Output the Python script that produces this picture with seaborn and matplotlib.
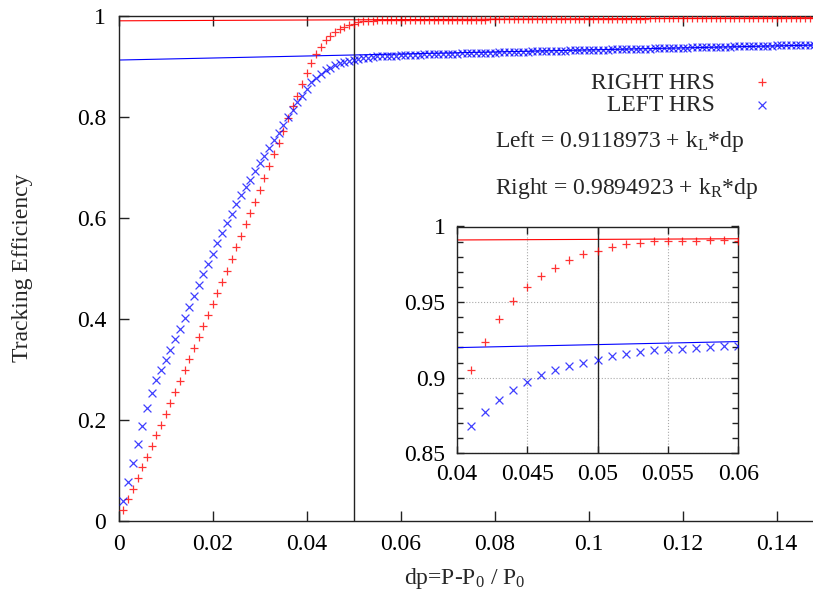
import numpy as np
import pandas as pd
import matplotlib
matplotlib.use("Agg")
import matplotlib.pyplot as plt
from matplotlib.ticker import FixedLocator, MultipleLocator, FuncFormatter
import seaborn as sns

# dp values (P-P0)/P0, one point per 0.001
dp = [0.001, 0.002, 0.003, 0.004, 0.005, 0.006, 0.007, 0.008, 0.009, 0.010,
      0.011, 0.012, 0.013, 0.014, 0.015, 0.016, 0.017, 0.018, 0.019, 0.020,
      0.021, 0.022, 0.023, 0.024, 0.025, 0.026, 0.027, 0.028, 0.029, 0.030,
      0.031, 0.032, 0.033, 0.034, 0.035, 0.036, 0.037, 0.038, 0.039, 0.040,
      0.041, 0.042, 0.043, 0.044, 0.045, 0.046, 0.047, 0.048, 0.049, 0.050,
      0.051, 0.052, 0.053, 0.054, 0.055, 0.056, 0.057, 0.058, 0.059, 0.060,
      0.061, 0.062, 0.063, 0.064, 0.065, 0.066, 0.067, 0.068, 0.069, 0.070,
      0.071, 0.072, 0.073, 0.074, 0.075, 0.076, 0.077, 0.078, 0.079, 0.080,
      0.081, 0.082, 0.083, 0.084, 0.085, 0.086, 0.087, 0.088, 0.089, 0.090,
      0.091, 0.092, 0.093, 0.094, 0.095, 0.096, 0.097, 0.098, 0.099, 0.100,
      0.101, 0.102, 0.103, 0.104, 0.105, 0.106, 0.107, 0.108, 0.109, 0.110,
      0.111, 0.112, 0.113, 0.114, 0.115, 0.116, 0.117, 0.118, 0.119, 0.120,
      0.121, 0.122, 0.123, 0.124, 0.125, 0.126, 0.127, 0.128, 0.129, 0.130,
      0.131, 0.132, 0.133, 0.134, 0.135, 0.136, 0.137, 0.138, 0.139, 0.140,
      0.141, 0.142, 0.143, 0.144, 0.145, 0.146, 0.147, 0.148, 0.149, 0.150]

# RIGHT HRS tracking efficiency
right_eff = [0.0217, 0.0429, 0.0640, 0.0857, 0.1067, 0.1272, 0.1476, 0.1693, 0.1904, 0.2122,
             0.2339, 0.2548, 0.2766, 0.2991, 0.3200, 0.3418, 0.3635, 0.3852, 0.4077, 0.4295,
             0.4512, 0.4735, 0.4953, 0.5176, 0.5413, 0.5644, 0.5867, 0.6092, 0.6310, 0.6550,
             0.6780, 0.7030, 0.7260, 0.7475, 0.7724, 0.7980, 0.8200, 0.8416, 0.8647, 0.8870,
             0.9053, 0.9234, 0.9385, 0.9507, 0.9600, 0.9673, 0.9728, 0.9777, 0.9821, 0.9839,
             0.9863, 0.9883, 0.9894, 0.9901, 0.9903, 0.9903, 0.9903, 0.9910, 0.9912, 0.9905,
             0.9908, 0.9910, 0.9909, 0.9911, 0.9912, 0.9911, 0.9913, 0.9914, 0.9913, 0.9915,
             0.9916, 0.9915, 0.9917, 0.9918, 0.9917, 0.9919, 0.9920, 0.9919, 0.9921, 0.9921,
             0.9922, 0.9923, 0.9922, 0.9924, 0.9925, 0.9924, 0.9926, 0.9926, 0.9927, 0.9928,
             0.9927, 0.9929, 0.9929, 0.9930, 0.9931, 0.9930, 0.9932, 0.9932, 0.9933, 0.9934,
             0.9933, 0.9935, 0.9935, 0.9936, 0.9937, 0.9936, 0.9938, 0.9938, 0.9939, 0.9939,
             0.9940, 0.9940, 0.9941, 0.9941, 0.9942, 0.9942, 0.9943, 0.9943, 0.9944, 0.9944,
             0.9945, 0.9944, 0.9945, 0.9946, 0.9946, 0.9947, 0.9946, 0.9947, 0.9948, 0.9948,
             0.9948, 0.9949, 0.9949, 0.9948, 0.9950, 0.9950, 0.9949, 0.9951, 0.9950, 0.9951,
             0.9951, 0.9952, 0.9951, 0.9952, 0.9952, 0.9953, 0.9952, 0.9953, 0.9953, 0.9954]

# LEFT HRS tracking efficiency
left_eff = [0.0395, 0.0780, 0.1154, 0.1529, 0.1877, 0.2226, 0.2537, 0.2780, 0.2990, 0.3194,
            0.3392, 0.3603, 0.3807, 0.4018, 0.4235, 0.4445, 0.4662, 0.4887, 0.5091, 0.5288,
            0.5500, 0.5697, 0.5895, 0.6079, 0.6276, 0.6454, 0.6600, 0.6750, 0.6914, 0.7080,
            0.7230, 0.7388, 0.7540, 0.7685, 0.7837, 0.7989, 0.8133, 0.8285, 0.8416, 0.8542,
            0.8681, 0.8770, 0.8852, 0.8920, 0.8971, 0.9015, 0.9051, 0.9075, 0.9098, 0.9120,
            0.9144, 0.9155, 0.9168, 0.9181, 0.9191, 0.9193, 0.9197, 0.9206, 0.9208, 0.9212,
            0.9216, 0.9220, 0.9223, 0.9225, 0.9229, 0.9231, 0.9235, 0.9237, 0.9240, 0.9243,
            0.9245, 0.9248, 0.9251, 0.9253, 0.9256, 0.9258, 0.9261, 0.9263, 0.9266, 0.9268,
            0.9271, 0.9273, 0.9276, 0.9278, 0.9281, 0.9283, 0.9286, 0.9288, 0.9291, 0.9293,
            0.9296, 0.9298, 0.9300, 0.9303, 0.9305, 0.9308, 0.9310, 0.9312, 0.9315, 0.9317,
            0.9320, 0.9322, 0.9324, 0.9327, 0.9329, 0.9331, 0.9334, 0.9336, 0.9338, 0.9341,
            0.9343, 0.9345, 0.9347, 0.9350, 0.9352, 0.9354, 0.9356, 0.9359, 0.9361, 0.9363,
            0.9365, 0.9368, 0.9370, 0.9372, 0.9374, 0.9376, 0.9379, 0.9381, 0.9383, 0.9385,
            0.9387, 0.9390, 0.9392, 0.9394, 0.9396, 0.9398, 0.9400, 0.9402, 0.9405, 0.9407,
            0.9409, 0.9411, 0.9413, 0.9415, 0.9417, 0.9419, 0.9421, 0.9423, 0.9425, 0.9427]

# fit lines: eff = a + k*dp
a_left, k_left = 0.9118973, 0.20
a_right, k_right = 0.9894923, 0.04
fit_x = [0.0, 0.15]
dp_cut = 0.05

main_xticks = [0, 0.02, 0.04, 0.06, 0.08, 0.1, 0.12, 0.14]
main_yticks = [0, 0.2, 0.4, 0.6, 0.8, 1.0]
inset_xticks = [0.04, 0.045, 0.05, 0.055, 0.06]
inset_yticks = [0.85, 0.9, 0.95, 1.0]

sns.set_style("ticks")
plt.rcParams['font.family'] = ['Liberation Serif', 'DejaVu Serif']
plt.rcParams['mathtext.fontset'] = 'custom'
plt.rcParams['mathtext.rm'] = 'Liberation Serif'
plt.rcParams['mathtext.it'] = 'Liberation Serif:italic'
FS = 17

df = pd.DataFrame({'dp': dp, 'right': right_eff, 'left': left_eff})
fit_right = [a_right + k_right * x for x in fit_x]
fit_left = [a_left + k_left * x for x in fit_x]

W, H = 813, 598
fig = plt.figure(figsize=(W / 100, H / 100), dpi=100)
ax = fig.add_axes([118.7 / W, (H - 521) / H, (823.7 - 118.7) / W, (521 - 15.5) / H])
ax2 = fig.add_axes([456.7 / W, (H - 453.3) / H, (738.3 - 456.7) / W, (453.3 - 226.5) / H])

gfmt = FuncFormatter(lambda v, p: '%g' % round(v, 4))


def draw(a, data, ms):
    sns.lineplot(x=fit_x, y=fit_right, color='red', linewidth=0.8, ax=a, zorder=2)
    sns.lineplot(x=fit_x, y=fit_left, color='blue', linewidth=0.8, ax=a, zorder=2)
    a.axvline(dp_cut, color='#222222', linewidth=1.0, zorder=2)
    sns.scatterplot(data=data, x='dp', y='right', marker='+', color='red', s=ms,
                    linewidth=0.9, alpha=0.8, ax=a, zorder=3, label='RIGHT HRS')
    sns.scatterplot(data=data, x='dp', y='left', marker='x', color='blue', s=ms * 0.8,
                    linewidth=0.9, alpha=0.75, ax=a, zorder=3, label='LEFT HRS')


draw(ax, df, 40)
ax.set_xlim(0, 0.15)
ax.set_ylim(0, 1)
ax.xaxis.set_major_locator(FixedLocator(main_xticks))
ax.yaxis.set_major_locator(FixedLocator(main_yticks))
ax.xaxis.set_major_formatter(gfmt)
ax.yaxis.set_major_formatter(gfmt)
ax.tick_params(direction='in', top=True, right=True, length=7, width=1,
               labelsize=FS, pad=9, colors='#222222', labelcolor='black')
for s in ax.spines.values():
    s.set_color('#222222')
    s.set_linewidth(1.0)
ax.set_xlabel(r'dp=P-P$_0$ / P$_0$', fontsize=FS)
ax.set_ylabel('Tracking Efficiency', fontsize=FS)
ax.xaxis.set_label_coords((465 - 118.7) / 705, -0.089)
ax.yaxis.set_label_coords((33 - 118.7) / 705, 0.5)

leg = ax.legend(loc='upper right', bbox_to_anchor=(786 / W, (H - 72) / H),
                bbox_transform=fig.transFigure, frameon=False, markerfirst=False,
                fontsize=FS, handletextpad=1.0, labelspacing=0.05,
                borderpad=0, borderaxespad=0, markerscale=1.0)
for t in leg.get_texts():
    t.set_ha('right')

fig.text(495 / W, (H - 141.7) / H, r'Left = 0.9118973 + k$_{\mathrm{L}}$*dp',
         fontsize=FS, va='center', ha='left')
fig.text(495 / W, (H - 188.3) / H, r'Right = 0.9894923 + k$_{\mathrm{R}}$*dp',
         fontsize=FS, va='center', ha='left')

# inset zoom around the cut (points from 0.041 on)
draw(ax2, df[df['dp'] > 0.0405], 40)
ax2.get_legend().remove()
ax2.set_xlim(0.04, 0.06)
ax2.set_ylim(0.85, 1.0)
ax2.xaxis.set_major_locator(FixedLocator(inset_xticks))
ax2.yaxis.set_major_locator(FixedLocator(inset_yticks))
ax2.yaxis.set_minor_locator(MultipleLocator(0.01))
ax2.xaxis.set_major_formatter(gfmt)
ax2.yaxis.set_major_formatter(gfmt)
ax2.tick_params(which='both', direction='in', top=True, right=True, width=1,
                labelsize=FS, pad=8, colors='#222222', labelcolor='black')
ax2.tick_params(which='major', length=5)
ax2.tick_params(which='minor', length=4)
ax2.grid(True, which='major', linestyle=':', color='#aaaaaa', linewidth=0.8)
ax2.set_xlabel('')
ax2.set_ylabel('')
for s in ax2.spines.values():
    s.set_color('#222222')
    s.set_linewidth(1.0)

fig.savefig('out.png', dpi=100)
